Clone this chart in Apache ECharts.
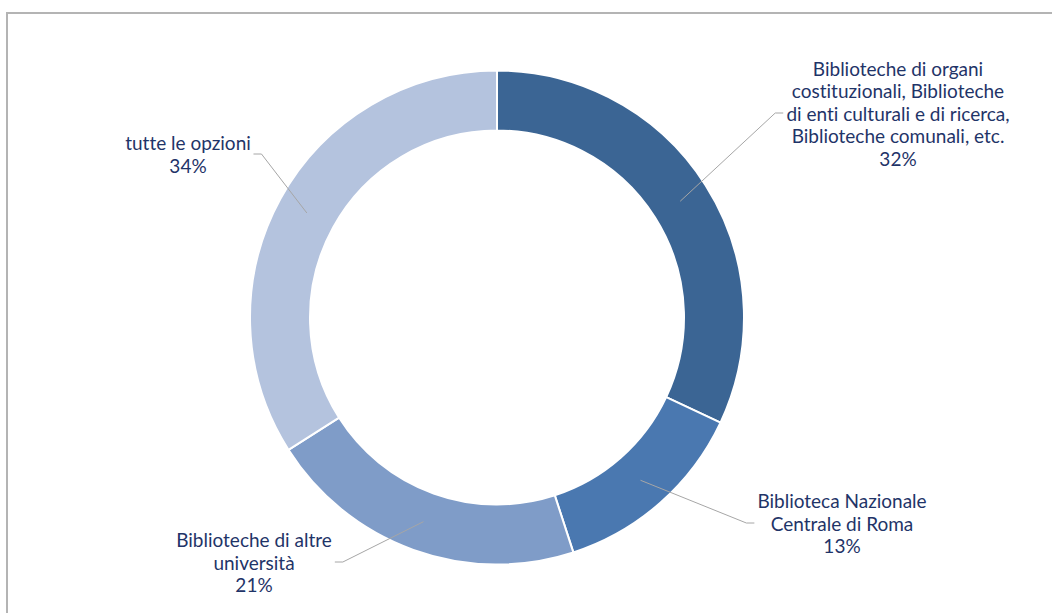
<!DOCTYPE html>
<html>
<head>
<meta charset="utf-8">
<script src="https://cdn.jsdelivr.net/npm/echarts@6/dist/echarts.min.js"></script>
<style>
  html, body { margin: 0; padding: 0; background: #fff; overflow: hidden; }
  #frame { position: absolute; left: 6px; top: 12px; width: 2000px; height: 2000px;
           border-top: 2px solid #b4b4b4; border-left: 2px solid #b4b4b4; }
  #chart { position: absolute; left: 0; top: 0; width: 1052px; height: 613px; }
  #chart text { font-variant-ligatures: none; }
</style>
</head>
<body>
<div id="frame"></div>
<div id="chart"></div>
<script>
// Share of respondents by library type
const categories = [
  'Biblioteche di organi\ncostituzionali, Biblioteche\ndi enti culturali e di ricerca,\nBiblioteche comunali, etc.',
  'Biblioteca Nazionale\nCentrale di Roma',
  'Biblioteche di altre\nuniversità',
  'tutte le opzioni'
];
const shares = [32, 13, 21, 34];
const sliceColors = ['#3b6594', '#4a78b0', '#7f9cc8', '#b4c3de'];
// label anchor points (centre of each text block)
const labelSpots = [[898, 113], [842, 523], [254, 562], [188, 154]];

const chart = echarts.init(document.getElementById('chart'), null, { renderer: 'svg' });

const ringData = categories.map((name, i) => ({
  name, value: shares[i], itemStyle: { color: sliceColors[i] }
}));
const labelData = categories.map((name, i) => ({ name, value: shares[i] }));

chart.setOption({
  animation: false,
  series: [
    {
      type: 'pie',
      z: 1,
      center: [497, 317.5],
      radius: [187, 247],
      startAngle: 90,
      clockwise: true,
      silent: true,
      label: { show: false },
      labelLine: { show: false },
      itemStyle: { borderColor: '#ffffff', borderWidth: 2 },
      data: ringData
    },
    {
      // transparent copy whose label lines start at mid-ring
      type: 'pie',
      z: 5,
      center: [497, 317.5],
      radius: [0, 217],
      startAngle: 90,
      clockwise: true,
      silent: true,
      avoidLabelOverlap: false,
      itemStyle: { color: 'rgba(0,0,0,0)' },
      label: {
        show: true,
        position: 'outside',
        formatter: p => p.name + '\n' + p.value + '%',
        color: '#1f3468',
        fontFamily: 'Lato',
        fontSize: 19,
        lineHeight: 22.5,
        align: 'center',
        padding: [0, 3]
      },
      labelLine: {
        show: true,
        length: 20,
        length2: 8,
        lineStyle: { color: '#a6a6a6', width: 1 }
      },
      labelLayout: p => ({
        x: labelSpots[p.dataIndex][0],
        y: labelSpots[p.dataIndex][1],
        align: 'center',
        verticalAlign: 'middle'
      }),
      data: labelData
    }
  ]
});
</script>
</body>
</html>
